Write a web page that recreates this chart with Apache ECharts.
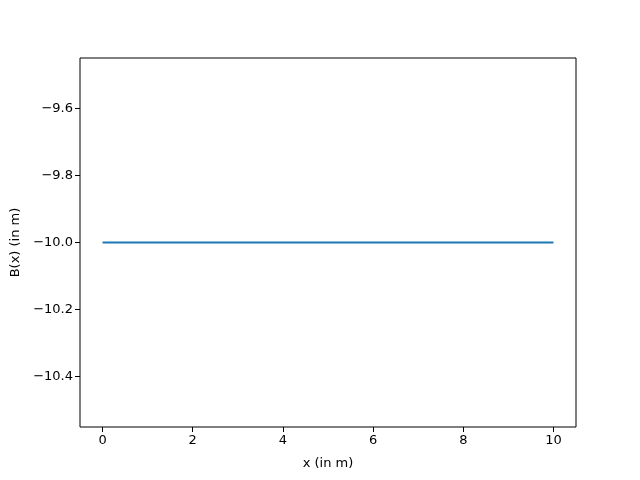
<!DOCTYPE html>
<html><head><meta charset="utf-8">
<script src="https://cdn.jsdelivr.net/npm/echarts@6/dist/echarts.min.js"></script>
<style>html,body{margin:0;padding:0;background:#fff}#c{width:640px;height:480px}</style>
</head><body><div id="c"></div>
<script>
const xValues = [0, 1, 2, 3, 4, 5, 6, 7, 8, 9, 10];
const bValues = [-10, -10, -10, -10, -10, -10, -10, -10, -10, -10, -10];
const xTicks = [0, 2, 4, 6, 8, 10];
const yTicks = [-10.4, -10.2, -10.0, -9.8, -9.6];

const chart = echarts.init(document.getElementById('c'), null, {renderer: 'canvas'});
const font = 'DejaVu Sans';
chart.setOption({
  animation: false,
  grid: {left: 80, right: 64, top: 58, bottom: 53, containLabel: false, outerBoundsMode: 'none',
    show: true, borderColor: '#000', borderWidth: 1, backgroundColor: 'transparent'},
  xAxis: {
    type: 'value', min: -0.5, max: 10.5,
    name: 'x (in m)', nameLocation: 'middle', nameGap: 30,
    nameTextStyle: {fontFamily: font, fontSize: 13, color: '#000'},
    axisLine: {show: false, onZero: false},
    splitLine: {show: false},
    axisTick: {show: true, inside: false, length: 5, lineStyle: {color: '#000'}, customValues: xTicks},
    axisLabel: {customValues: xTicks, fontFamily: font, fontSize: 13, color: '#000', margin: 7}
  },
  yAxis: {
    type: 'value', min: -10.55, max: -9.45,
    name: 'B(x) (in m)', nameLocation: 'middle', nameGap: 57, nameRotate: 90,
    nameTextStyle: {fontFamily: font, fontSize: 13, color: '#000'},
    axisLine: {show: false, onZero: false},
    splitLine: {show: false},
    axisTick: {show: true, inside: false, length: 5, lineStyle: {color: '#000'}, customValues: yTicks},
    axisLabel: {customValues: yTicks, fontFamily: font, fontSize: 13, color: '#000', margin: 7,
      formatter: v => v.toFixed(1).replace('-', '\u2212')}
  },
  series: [{
    type: 'line', data: xValues.map((x, i) => [x, bValues[i]]),
    showSymbol: false, lineStyle: {color: '#1f77b4', width: 2}
  }]
});
</script></body></html>
